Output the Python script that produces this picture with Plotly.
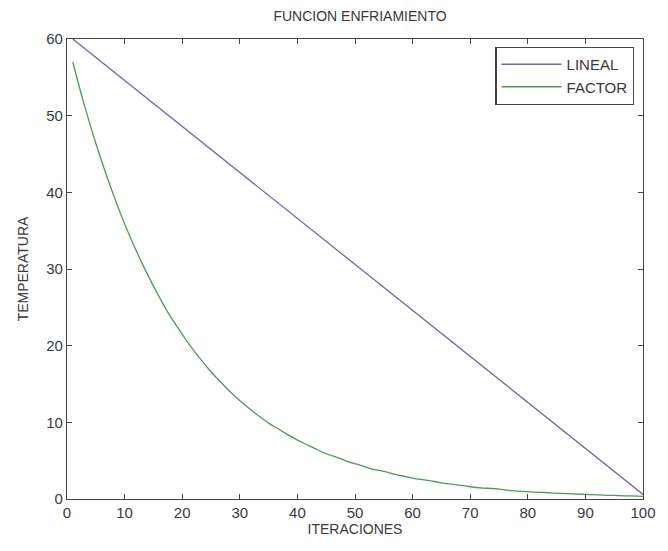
import plotly.graph_objects as go

# Linear cooling (LINEAL)
lineal_x = [1, 100]
lineal_y = [60.0, 0.6]

# Factor cooling (FACTOR)
factor_x = [1, 3, 5, 7, 9, 11, 13, 15, 17, 19, 21, 23, 25, 27, 29, 31, 33, 35, 37, 39,
            41, 43, 45, 47, 49, 51, 53, 55, 57, 59, 61, 63, 65, 67, 69, 71, 73, 75, 77, 79,
            81, 83, 85, 87, 89, 91, 93, 95, 97, 99, 100]
factor_y = [57.0, 51.4, 46.4, 41.9, 37.8, 34.1, 30.8, 27.8, 25.0, 22.6, 20.4, 18.4, 16.6,
            15.0, 13.5, 12.2, 11.0, 9.9, 9.0, 8.1, 7.3, 6.6, 5.9, 5.4, 4.8, 4.4, 3.9, 3.6,
            3.2, 2.9, 2.6, 2.4, 2.1, 1.9, 1.7, 1.5, 1.4, 1.3, 1.1, 1.0, 0.9, 0.85, 0.76,
            0.69, 0.62, 0.56, 0.51, 0.46, 0.41, 0.37, 0.35]

x_ticks = [0, 10, 20, 30, 40, 50, 60, 70, 80, 90, 100]
y_ticks = [0, 10, 20, 30, 40, 50, 60]

FONT = "Liberation Sans Narrow, Arial Narrow, Liberation Sans, Arial"
AXC = "#444444"
TXT = "#3a3a3a"

fig = go.Figure()
fig.add_trace(go.Scatter(x=lineal_x, y=lineal_y, mode="lines", name="LINEAL",
                         line=dict(color="#6b6bab", width=1.3)))
fig.add_trace(go.Scatter(x=factor_x, y=factor_y, mode="lines", name="FACTOR",
                         line=dict(color="#4f9a5a", width=1.3, shape="spline")))

axis_common = dict(showline=True, linecolor=AXC, linewidth=1.2, mirror="ticks",
                   ticks="inside", ticklen=5, tickcolor=AXC, showgrid=False,
                   zeroline=False, tickfont=dict(family=FONT, size=15, color=TXT))

fig.update_layout(
    width=668, height=551,
    margin=dict(l=67, r=15, t=39, b=52),
    paper_bgcolor="white", plot_bgcolor="white",
    font=dict(family=FONT, size=14, color=TXT),
    title=dict(text="FUNCION ENFRIAMIENTO", x=(67 + 653) / 2 / 668, xanchor="center",
               y=1 - 16 / 551, yanchor="middle", font=dict(family=FONT, size=14, color=TXT)),
    xaxis=dict(range=[0, 100], tickvals=x_ticks,
               title=dict(text="ITERACIONES", standoff=2, font=dict(family=FONT, size=14)),
               **axis_common),
    yaxis=dict(range=[0, 60], tickvals=y_ticks,
               title=dict(text="TEMPERATURA", standoff=14, font=dict(family=FONT, size=14)),
               **axis_common),
    legend=dict(x=0.985, y=0.983, xanchor="right", yanchor="top",
                bordercolor=AXC, borderwidth=1.2, bgcolor="white",
                font=dict(family=FONT, size=15, color=TXT),
                itemwidth=60, tracegroupgap=0),
    showlegend=True,
)

fig.write_html("out.html")
